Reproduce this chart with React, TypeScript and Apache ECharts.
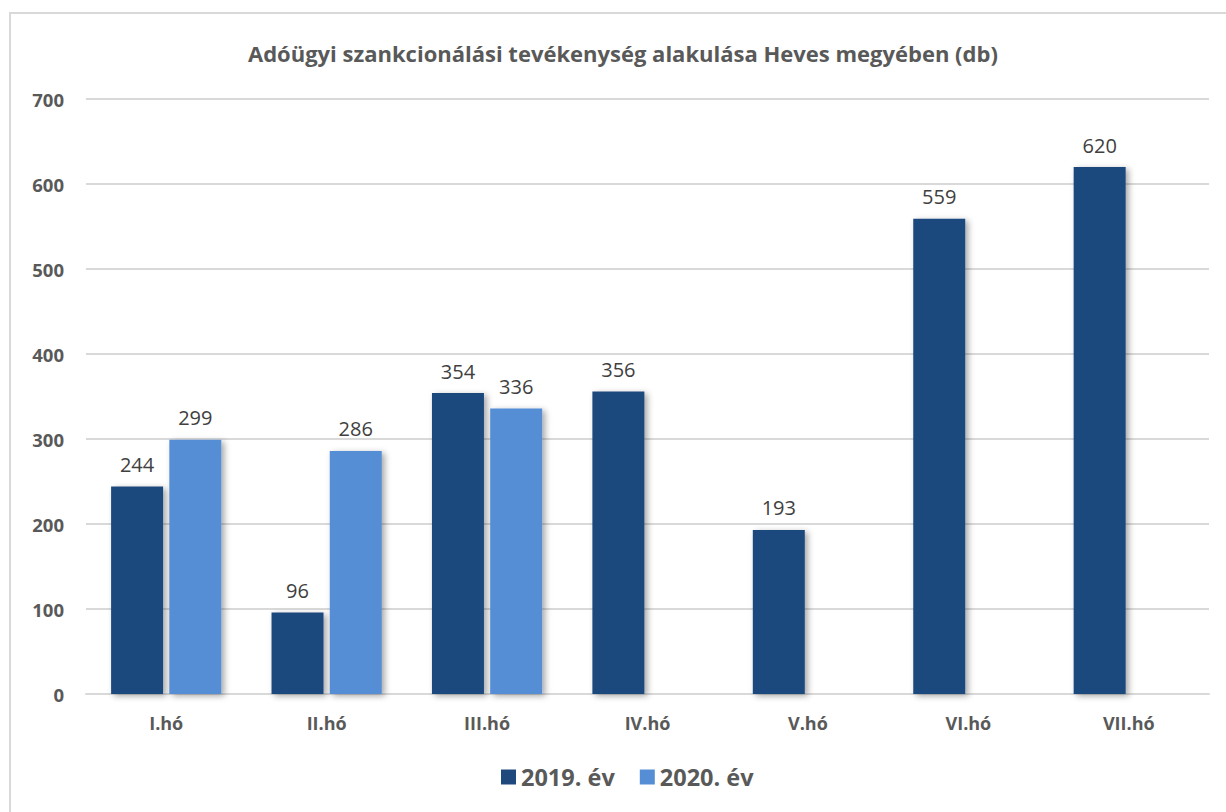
import React, { useEffect, useRef } from "react";
import * as echarts from "echarts";

const categories = ["I.hó", "II.hó", "III.hó", "IV.hó", "V.hó", "VI.hó", "VII.hó"];
const series2019 = [244, 96, 354, 356, 193, 559, 620];
const series2020: (number | null)[] = [299, 286, 336, null, null, null, null];
const seriesNames = ["2019. év", "2020. év"];
const titleText = "Adóügyi szankcionálási tevékenység alakulása Heves megyében (db)";

const FONT = "'Open Sans', sans-serif";

export default function App() {
  const ref = useRef<HTMLDivElement>(null);
  useEffect(() => {
    if (!ref.current) return;
    const chart = echarts.init(ref.current, undefined, { renderer: "svg" });
    const shadow = {
      shadowBlur: 6,
      shadowOffsetX: 3,
      shadowOffsetY: 2,
      shadowColor: "rgba(0,0,0,0.35)",
    };
    const label = {
      show: true,
      position: "top" as const,
      distance: 12,
      color: "#404040",
      fontSize: 20,
      fontFamily: FONT,
    };
    chart.setOption({
      animation: false,
      backgroundColor: "#ffffff",
      textStyle: { fontFamily: FONT },
      title: {
        text: titleText,
        left: 243,
        top: 37,
        textStyle: { color: "#595959", fontSize: 22, fontWeight: "bold", fontFamily: FONT },
      },
      graphic: [
        {
          type: "rect",
          shape: { x: 10, y: 13, width: 1400, height: 1000 },
          style: { fill: "none", stroke: "#d9d9d9", lineWidth: 2 },
          silent: true,
        },
      ],
      legend: {
        bottom: 18,
        left: 496,
        itemWidth: 15,
        itemHeight: 15,
        itemGap: 25,
        icon: "rect",
        textStyle: { color: "#595959", fontSize: 23.5, fontWeight: "bold", fontFamily: FONT },
        data: seriesNames,
      },
      grid: { left: 86, right: 17, top: 99, bottom: 118, containLabel: false },
      xAxis: {
        type: "category",
        data: categories,
        axisLine: { show: true, lineStyle: { color: "#d9d9d9", width: 2 } },
        axisTick: { show: false },
        axisLabel: { color: "#595959", fontSize: 18, fontWeight: "bold", margin: 20, fontFamily: FONT },
      },
      yAxis: {
        type: "value",
        min: 0,
        max: 700,
        interval: 100,
        axisLine: { show: false },
        axisTick: { show: false },
        splitLine: { lineStyle: { color: "#d9d9d9", width: 2 } },
        axisLabel: { color: "#595959", fontSize: 18.5, fontWeight: "bold", margin: 22, fontFamily: FONT },
      },
      series: [
        {
          name: seriesNames[0],
          type: "bar",
          data: series2019,
          barWidth: 52,
          barGap: "12%",
          itemStyle: { color: "#1F497D", ...shadow },
          label,
        },
        {
          name: seriesNames[1],
          type: "bar",
          data: series2020,
          barWidth: 52,
          barGap: "12%",
          itemStyle: { color: "#558ED5", ...shadow },
          label,
        },
      ],
    });
    return () => chart.dispose();
  }, []);
  return (
    <div
      ref={ref}
      style={{ position: "absolute", left: 0, top: 0, width: 1226, height: 812 }}
    />
  );
}
